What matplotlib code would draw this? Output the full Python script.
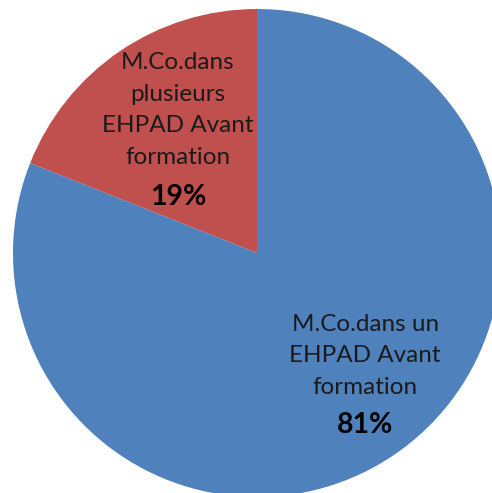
import numpy as np
import matplotlib.pyplot as plt

labels = ["M.Co.dans un\nEHPAD Avant\nformation", "M.Co.dans\nplusieurs\nEHPAD Avant\nformation"]
values = [81, 19]
colors = ["#4F81BD", "#C0504D"]

plt.rcParams['font.family'] = ['Lato', 'DejaVu Sans']

fig = plt.figure(figsize=(4.92, 4.93), dpi=100)
ax = fig.add_axes([0, 0, 1, 1])

# red slice sits counter-clockwise from 12 o'clock, blue takes the rest
wedges, _ = ax.pie(values[::-1], colors=colors[::-1], startangle=90, counterclock=True,
                   radius=1, wedgeprops=dict(linewidth=0))

# label anchors (centre of the text block) in data units
label_pos = [(0.443, -0.422), (-0.324, 0.586)]
pct_pos = [(0.443, -0.705), (-0.324, 0.230)]
for lab, val, (x, y), (px, py) in zip(labels, values, label_pos, pct_pos):
    ax.text(x, y, lab, ha='center', va='center', fontsize=17.5, color='#1a1a1a', linespacing=1.63)
    ax.text(px, py, f"{val}%", ha='center', va='center', fontsize=20.5, fontweight='bold', color='black')

ax.set_xlim(-257 / 244, (492 - 257) / 244)
ax.set_ylim(-(493 - 253) / 244, 253 / 244)
ax.set_aspect('auto')
ax.axis('off')

fig.savefig('out.png', dpi=100)
